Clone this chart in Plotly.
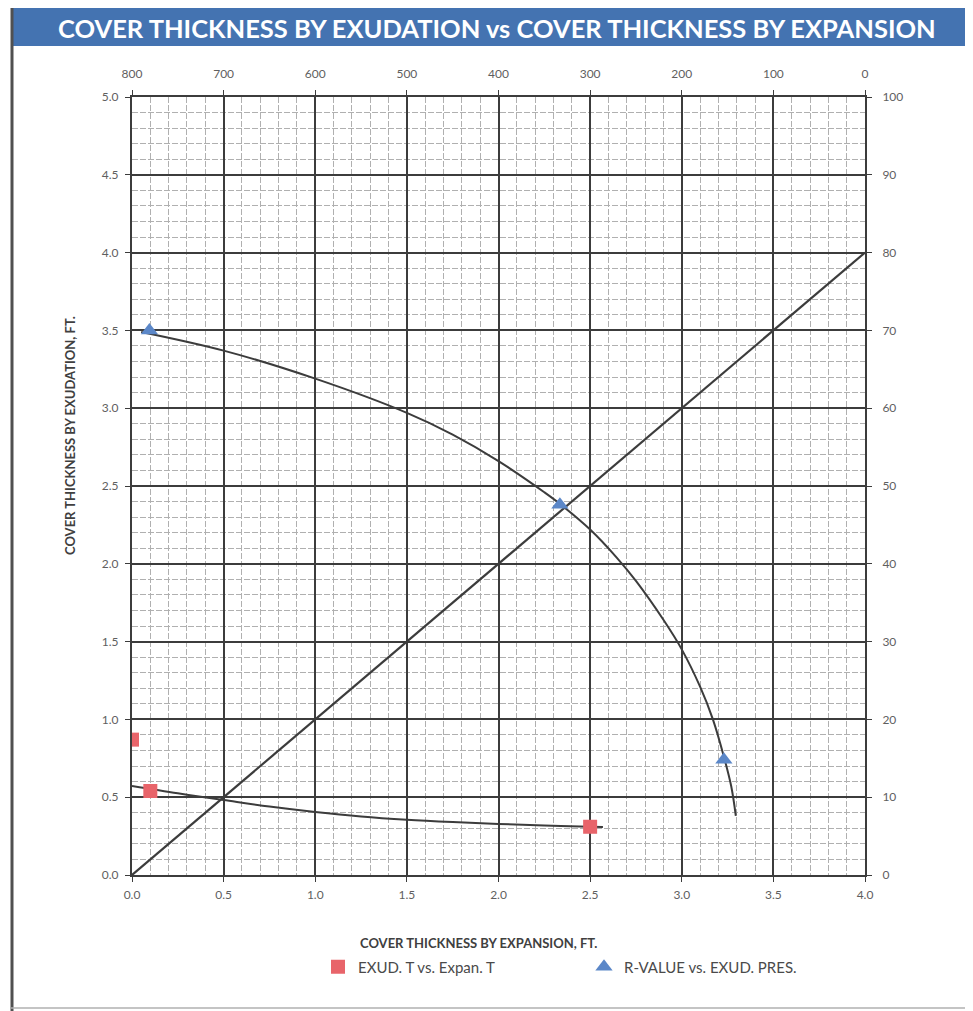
import plotly.graph_objects as go

OFF = 8  # page body margin
W, H = 973 - OFF, 1011 - OFF
L, R, T, B = 124, 108, 89, 136
PW, PH = W - L - R, H - T - B

def px(sx):
    return (sx - OFF - L) / PW

def py(sy):
    return (H - B - (sy - OFF)) / PH

# ---- data ----
exud_expan_x = [0.0, 0.1, 2.5]          # cover thickness by expansion, ft
exud_expan_y = [0.87, 0.54, 0.31]       # cover thickness by exudation, ft
exud_trend_x = [0.0, 0.25, 0.5, 0.75, 1.0, 1.25, 1.5, 1.75, 2.0, 2.25, 2.5, 2.57]
exud_trend_y = [0.572, 0.525, 0.482, 0.440, 0.405, 0.376, 0.355, 0.340, 0.328, 0.318, 0.310, 0.308]

rvalue_press = [781, 333, 154]          # exudation pressure
rvalue_r = [70, 47.6, 14.8]             # R-value
rvalue_trend_p = [790, 700, 600, 500, 450, 400, 350, 334, 300, 271, 250, 220,
                  200, 180, 166, 154, 146, 141]
rvalue_trend_r = [69.8, 67.4, 63.8, 59.4, 56.6, 53.2, 49.2, 47.8, 44.4, 40.8, 37.8, 32.8,
                  29.0, 24.2, 20.0, 15.2, 11.4, 7.6]

diag_x = [0.0, 4.0]
diag_y = [0.0, 4.0]

x_ticks = [0, 0.5, 1, 1.5, 2, 2.5, 3, 3.5, 4]
y_ticks = [0, 0.5, 1, 1.5, 2, 2.5, 3, 3.5, 4, 4.5, 5]
top_ticks = [800, 700, 600, 500, 400, 300, 200, 100, 0]
right_ticks = [0, 10, 20, 30, 40, 50, 60, 70, 80, 90, 100]

LINE = "#3c3c3c"
RED = "#e8646a"
BLUE = "#5b87c8"
TICKC = "#5f5f5f"
FONT = "Lato"

fig = go.Figure()

fig.add_trace(go.Scatter(x=diag_x, y=diag_y, mode="lines",
                         line=dict(color=LINE, width=2.2), showlegend=False, hoverinfo="skip"))
fig.add_trace(go.Scatter(x=exud_trend_x, y=exud_trend_y, mode="lines",
                         line=dict(color=LINE, width=2, shape="spline", smoothing=1), showlegend=False))
fig.add_trace(go.Scatter(x=rvalue_trend_p, y=rvalue_trend_r, mode="lines", xaxis="x2", yaxis="y2",
                         line=dict(color=LINE, width=2, shape="spline", smoothing=1), showlegend=False))
fig.add_trace(go.Scatter(x=exud_expan_x, y=exud_expan_y, mode="markers",
                         name="EXUD. T vs. Expan. T",
                         marker=dict(symbol="square", size=14, color=RED, line=dict(width=0))))
fig.add_trace(go.Scatter(x=rvalue_press, y=rvalue_r, mode="markers", xaxis="x2", yaxis="y2",
                         name="R-VALUE vs. EXUD. PRES.",
                         marker=dict(symbol="triangle-up", size=15, color=BLUE, line=dict(width=0))))

grid_major = dict(showgrid=True, gridcolor=LINE, gridwidth=1.8)
minor = dict(dtick=0.1, showgrid=True, gridcolor="#b0b0b0", gridwidth=1, griddash="6px,2px", ticks="")
axis_common = dict(zeroline=False, showline=True, linecolor=LINE, linewidth=2,
                   ticks="outside", ticklen=5, tickcolor=LINE,
                   tickfont=dict(size=12, color=TICKC, family=FONT))

fig.update_layout(
    width=W, height=H,
    margin=dict(l=L, r=R, t=T, b=B, autoexpand=False),
    paper_bgcolor="white", plot_bgcolor="white",
    font=dict(family=FONT, color=TICKC, size=12),
    xaxis=dict(range=[0, 4], tickvals=x_ticks, tickformat=".1f", **grid_major, minor=minor,
               ticklabelstandoff=3, **axis_common),
    yaxis=dict(range=[0, 5], tickvals=y_ticks, tickformat=".1f", **grid_major, minor=minor,
               ticklabelstandoff=4, **axis_common),
    xaxis2=dict(range=[800, 0], tickvals=top_ticks, overlaying="x", side="top", anchor="y",
                showgrid=False, ticklabelstandoff=7, **axis_common),
    yaxis2=dict(range=[0, 100], tickvals=right_ticks, overlaying="y", side="right", anchor="x",
                showgrid=False, ticklabelstandoff=8, **axis_common),
    showlegend=True,
    legend=dict(orientation="h", x=px(318), y=py(967), xanchor="left", yanchor="middle",
                entrywidth=221, entrywidthmode="pixels", itemwidth=30,
                font=dict(size=15, color="#4a4a4a", family=FONT), bgcolor="rgba(0,0,0,0)"),
)

shapes = [
    # banner
    dict(type="rect", xref="paper", yref="paper", x0=px(11), x1=px(980), y0=py(46), y1=py(4),
         fillcolor="#4473b1", line=dict(width=0), layer="below"),
    # outer frame lines
    dict(type="line", xref="paper", yref="paper", x0=px(12), x1=px(12), y0=py(8), y1=py(1015),
         line=dict(color="#505050", width=3)),
    dict(type="line", xref="paper", yref="paper", x0=px(11), x1=px(980), y0=py(1008), y1=py(1008),
         line=dict(color="#b0b0b0", width=1.5)),
]
fig.update_layout(shapes=shapes)

annotations = [
    dict(text="COVER THICKNESS BY EXUDATION vs COVER THICKNESS BY EXPANSION",
         xref="paper", yref="paper", x=px(497), y=py(28), showarrow=False,
         font=dict(family=FONT, size=25.5, color="white", weight="bold"), xanchor="center", yanchor="middle"),
    dict(text="COVER THICKNESS BY EXPANSION, FT.", xref="paper", yref="paper",
         x=px(478), y=py(943), showarrow=False, xanchor="center", yanchor="middle",
         font=dict(family=FONT, size=13, color="#404040", weight="bold")),
    dict(text="COVER THICKNESS BY EXUDATION, FT.", xref="paper", yref="paper",
         x=px(70), y=py(436), showarrow=False, textangle=-90, xanchor="center", yanchor="middle",
         font=dict(family=FONT, size=13, color="#404040", weight="bold")),
]
fig.update_layout(annotations=annotations)

fig.write_html("out.html")
